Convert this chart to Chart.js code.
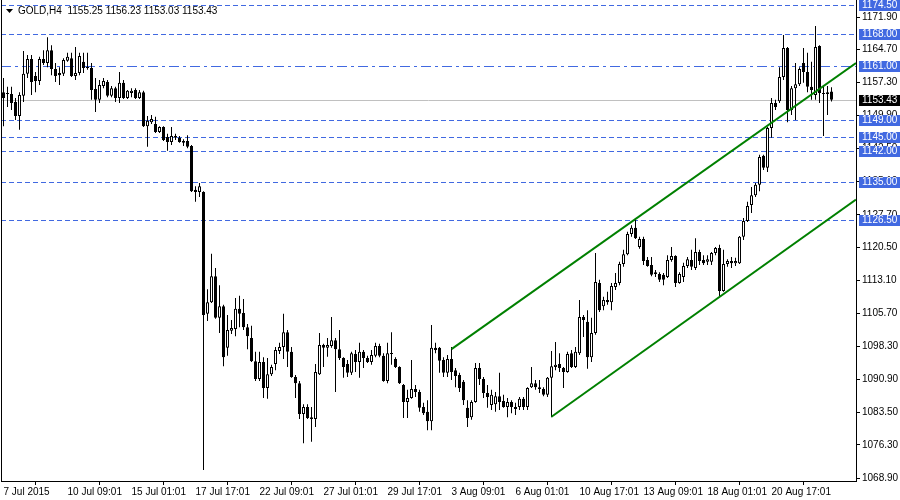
<!DOCTYPE html>
<html><head><meta charset="utf-8">
<script src="https://cdn.jsdelivr.net/npm/chart.js@4.4.1/dist/chart.umd.min.js"></script>
<style>html,body{margin:0;padding:0;background:#fff;}#wrap{width:900px;height:500px;}</style>
</head><body><div id="wrap"><canvas id="c" width="900" height="500"></canvas></div>
<script>
const symbol = 'GOLD,H4';
const timeLabels = ['7 Jul 2015','10 Jul 09:01','15 Jul 01:01','17 Jul 17:01','22 Jul 09:01','27 Jul 01:01','29 Jul 17:01','3 Aug 09:01','6 Aug 01:01','10 Aug 17:01','13 Aug 09:01','18 Aug 01:01','20 Aug 17:01'];
const timeLabelBars = [0,16,32,48,64,80,96,112,128,144,160,176,192];
const priceTicks = [1171.9,1164.7,1157.3,1149.9,1142.5,1135.1,1127.7,1120.5,1113.1,1105.7,1098.3,1090.9,1083.5,1076.3,1068.9];
const levelPrices = [1174.50,1168.00,1161.00,1149.00,1145.00,1142.00,1135.00,1126.50];
const bidPrice = 1153.43;

const opens = [1155.1,1154.7,1154.7,1152.9,1149.8,1154.3,1159.2,1162.5,1158.7,1157.6,1162.5,1161.6,1164.5,1160.3,1159.4,1159.2,1162.1,1162.7,1158.7,1159.4,
1161.9,1160.5,1160.5,1155.8,1153.4,1156.5,1157.4,1154.3,1156.0,1153.8,1157.2,1153.8,1154.9,1155.6,1153.8,1155.1,1147.5,1148.4,1148.0,1146.2,
1147.3,1145.1,1144.0,1144.9,1144.9,1144.2,1144.2,1143.1,1133.3,1132.8,1132.8,1105.6,1108.2,1114.0,1104.7,1107.3,1098.0,1101.8,1102.2,1106.7,
1105.8,1102.6,1100.2,1095.0,1091.0,1094.8,1089.0,1092.1,1094.4,1097.3,1098.2,1101.5,1097.1,1091.5,1090.1,1083.2,1084.8,1082.5,1082.1,1092.1,
1098.6,1098.0,1098.4,1099.7,1097.7,1095.7,1094.4,1092.4,1096.6,1094.8,1097.1,1095.7,1094.8,1096.2,1098.4,1096.2,1090.6,1096.8,1095.5,1093.7,
1089.7,1085.9,1086.8,1088.8,1088.1,1084.8,1083.7,1081.6,1098.0,1098.0,1095.3,1092.4,1095.5,1093.0,1091.9,1090.4,1084.6,1082.5,1085.9,1093.5,
1091.0,1087.9,1085.2,1085.4,1087.2,1086.1,1084.8,1085.9,1084.3,1084.8,1086.6,1084.8,1089.2,1090.1,1089.2,1088.8,1087.5,1091.3,1093.7,1094.4,
1093.5,1092.6,1096.8,1093.7,1096.8,1104.9,1103.8,1095.9,1101.3,1112.5,1107.3,1108.7,1108.2,1111.6,1112.5,1116.7,1118.9,1123.4,1124.8,1120.5,
1122.3,1117.6,1116.5,1114.9,1114.5,1114.3,1113.8,1117.6,1118.5,1112.5,1113.8,1116.3,1117.6,1115.8,1119.4,1117.6,1117.2,1117.2,1119.2,1120.3,
1110.7,1116.7,1117.4,1116.9,1116.9,1122.8,1126.3,1129.9,1132.1,1134.4,1140.9,1138.2,1147.1,1152.7,1153.1,1158.5,1165.0,1151.1,1156.0,1156.9,
1161.6,1159.6,1156.3,1154.5,1165.4,1154.9,1154.7,1155.25];
const highs = [1158.3,1156.3,1156.3,1153.8,1155.1,1164.3,1163.4,1163.4,1159.6,1163.0,1164.5,1167.4,1165.6,1161.6,1160.7,1162.7,1163.9,1163.9,1165.2,1163.9,
1163.9,1163.9,1161.6,1158.3,1157.8,1158.3,1157.8,1156.5,1156.3,1159.6,1157.8,1155.6,1156.0,1156.0,1155.6,1155.4,1149.8,1150.0,1149.6,1147.5,
1147.5,1145.8,1147.3,1145.8,1145.3,1144.6,1145.5,1143.3,1134.1,1134.8,1133.0,1111.1,1119.0,1115.8,1112.0,1107.6,1105.3,1104.2,1109.1,1109.6,
1108.9,1103.3,1102.9,1097.1,1097.1,1095.9,1095.7,1094.2,1098.2,1099.1,1105.6,1102.0,1098.2,1091.9,1090.6,1085.4,1085.4,1084.8,1094.4,1101.3,
1098.9,1100.2,1104.9,1100.2,1102.0,1095.9,1095.3,1097.1,1097.5,1099.1,1097.5,1096.2,1097.5,1099.1,1098.9,1096.8,1099.1,1101.5,1095.9,1093.9,
1089.9,1088.6,1095.3,1089.7,1088.6,1085.7,1086.3,1103.1,1099.1,1098.2,1095.9,1096.4,1098.2,1093.5,1092.4,1090.8,1086.3,1086.3,1094.6,1094.6,
1091.5,1089.7,1088.6,1088.1,1092.4,1087.5,1086.8,1086.3,1085.7,1087.0,1087.0,1089.2,1093.7,1090.8,1090.8,1089.2,1091.5,1097.3,1099.3,1096.8,
1093.7,1097.1,1097.5,1098.2,1108.7,1105.3,1106.4,1104.7,1119.2,1113.2,1109.4,1110.5,1112.5,1114.7,1117.2,1119.9,1123.9,1125.4,1126.6,1122.8,
1122.8,1118.3,1118.3,1115.4,1114.9,1114.7,1118.7,1120.5,1118.7,1114.9,1117.0,1118.3,1119.9,1122.5,1119.9,1118.7,1118.7,1119.4,1120.5,1121.0,
1119.9,1117.8,1118.3,1118.1,1123.0,1127.0,1130.6,1133.9,1134.8,1141.1,1141.1,1147.3,1153.8,1153.4,1160.7,1167.9,1165.2,1156.5,1161.6,1160.7,
1165.0,1163.9,1161.9,1169.9,1165.6,1156.7,1156.5,1156.23];
const lows = [1147.5,1151.8,1151.1,1148.9,1146.7,1152.9,1158.3,1154.5,1155.1,1156.7,1161.2,1160.7,1158.9,1157.4,1156.7,1158.7,1161.9,1158.5,1157.8,1158.9,
1159.4,1160.1,1153.4,1150.7,1152.7,1156.0,1154.0,1154.0,1152.9,1152.7,1153.6,1153.6,1154.0,1153.6,1153.6,1147.3,1142.9,1148.0,1146.0,1146.0,
1144.2,1142.0,1143.3,1144.4,1143.8,1143.1,1142.6,1132.8,1130.6,1131.7,1070.7,1104.0,1108.0,1104.5,1101.3,1093.9,1096.2,1101.1,1100.6,1102.6,
1102.0,1097.7,1094.8,1090.6,1090.6,1086.8,1086.6,1091.7,1093.0,1096.6,1095.5,1093.7,1091.3,1086.8,1082.1,1076.7,1082.1,1077.0,1080.3,1091.9,
1093.7,1096.0,1098.0,1088.1,1095.3,1091.3,1091.5,1091.9,1092.6,1091.3,1093.5,1094.6,1094.2,1095.9,1095.9,1090.4,1090.1,1094.2,1093.5,1089.9,
1082.3,1082.3,1086.6,1087.0,1083.7,1083.0,1079.6,1079.6,1096.8,1092.4,1091.5,1091.5,1090.8,1089.2,1088.1,1085.2,1080.3,1081.9,1085.7,1089.7,
1086.8,1084.6,1084.1,1083.7,1084.1,1084.6,1082.5,1083.4,1083.0,1084.1,1084.1,1084.1,1089.0,1088.6,1087.9,1087.2,1087.0,1082.5,1093.0,1092.6,
1089.0,1092.4,1093.5,1093.5,1096.4,1100.4,1093.3,1094.8,1100.9,1106.0,1106.4,1107.6,1106.4,1110.9,1112.0,1116.1,1118.7,1122.8,1122.3,1120.1,
1116.5,1116.1,1114.0,1113.8,1112.7,1112.0,1113.6,1117.2,1111.6,1112.3,1112.7,1115.8,1115.4,1115.4,1116.5,1116.5,1116.5,1116.5,1118.7,1109.4,
1110.5,1116.1,1115.8,1116.3,1116.7,1122.1,1126.1,1128.1,1131.7,1133.0,1137.7,1137.3,1144.9,1151.1,1152.7,1157.8,1148.4,1150.0,1148.9,1156.5,
1157.2,1155.1,1153.4,1153.4,1152.7,1145.3,1150.0,1153.03];
const closes = [1153.8,1154.9,1152.7,1149.8,1154.5,1159.2,1162.5,1157.4,1157.6,1162.5,1161.6,1164.5,1160.3,1158.7,1158.9,1162.3,1163.0,1158.7,1159.4,1163.2,
1160.5,1160.7,1155.6,1153.4,1156.7,1157.6,1154.3,1156.0,1153.8,1157.2,1153.8,1155.4,1155.4,1153.8,1155.1,1147.5,1148.7,1149.1,1146.2,1147.3,
1144.4,1144.0,1145.3,1145.3,1144.0,1143.8,1142.9,1133.0,1132.8,1134.1,1105.3,1108.2,1114.0,1104.7,1107.3,1095.9,1102.0,1102.4,1106.7,1105.6,
1102.6,1100.6,1095.0,1091.0,1094.8,1089.0,1092.1,1093.7,1097.5,1098.2,1101.5,1097.1,1091.5,1090.1,1083.2,1084.8,1082.3,1082.1,1092.6,1098.6,
1098.0,1098.6,1099.7,1097.7,1095.7,1093.7,1092.4,1096.8,1094.8,1097.1,1095.7,1094.8,1096.4,1098.4,1096.2,1090.6,1096.8,1096.6,1093.7,1090.1,
1085.9,1086.8,1088.8,1088.1,1084.6,1083.4,1081.6,1098.0,1097.5,1095.1,1092.4,1095.5,1092.6,1091.7,1089.0,1086.3,1082.3,1085.9,1093.5,1091.0,
1087.9,1087.0,1087.5,1087.2,1085.9,1084.8,1085.9,1084.8,1084.8,1086.6,1084.8,1089.0,1090.1,1089.2,1088.8,1087.5,1091.3,1093.9,1094.2,1093.5,
1092.6,1096.6,1093.7,1097.1,1104.9,1104.2,1095.9,1101.3,1112.7,1106.4,1108.7,1108.2,1111.8,1112.5,1116.7,1118.9,1123.4,1124.8,1122.5,1122.3,
1117.4,1116.3,1114.3,1114.5,1113.2,1113.2,1117.6,1118.5,1112.5,1114.5,1116.3,1117.8,1116.1,1119.4,1117.4,1116.9,1117.8,1119.2,1120.3,1110.7,
1116.7,1117.4,1116.9,1117.4,1122.8,1126.3,1129.7,1132.1,1134.4,1140.6,1138.2,1147.1,1152.7,1151.8,1158.5,1165.0,1151.1,1156.0,1156.9,1160.3,
1159.6,1156.3,1155.6,1165.2,1154.9,1154.7,1155.1,1153.43];

const upperChannelBars = [112, 213.125];
const upperChannelPrices = [1097.7, 1161.6];
const lowerChannelBars = [137, 213.125];
const lowerChannelPrices = [1082.6, 1131.1];

// ---------- presentation ----------
function hasFont(name){
  const c = document.createElement('canvas').getContext('2d');
  c.font = '20px monospace'; const a = c.measureText('1171.90 GOLD,H4').width;
  c.font = '20px "' + name + '", monospace'; const b = c.measureText('1171.90 GOLD,H4').width;
  return a !== b;
}
const FONT = hasFont('Liberation Sans Narrow') ? {family:'"Liberation Sans Narrow"', size:11} : {family:'"Liberation Sans", Arial', size:10};
const fontStr = FONT.size + 'px ' + FONT.family;
const LEVEL_BLUE = '#4169E1';
const DASHDOT_LEVEL = 1161.00;

Chart.defaults.font.family = FONT.family;
Chart.defaults.font.size = FONT.size;
Chart.defaults.color = '#000';

const idx = opens.map((_, i) => i);
const wickData = idx.map(i => ({x: i, y: [lows[i], highs[i]]}));
const bodyData = idx.map(i => ({x: i, y: [opens[i], closes[i]]}));
const bodyFill = idx.map(i => closes[i] >= opens[i] ? '#ffffff' : '#000000');

const mtPlugin = {
  id: 'mt',
  beforeDraw(chart) {
    const ctx = chart.ctx;
    ctx.save(); ctx.fillStyle = '#fff'; ctx.fillRect(0, 0, chart.width, chart.height); ctx.restore();
  },
  beforeDatasetsDraw(chart) {
    const {ctx, chartArea, scales} = chart;
    ctx.save();
    ctx.lineWidth = 1;
    // bid line
    let y = Math.round(scales.y.getPixelForValue(bidPrice)) + 0.5;
    ctx.strokeStyle = '#c0c0c0'; ctx.setLineDash([]);
    ctx.beginPath(); ctx.moveTo(chartArea.left, y); ctx.lineTo(chartArea.right, y); ctx.stroke();
    levelPrices.forEach(p => {
      const yy = Math.round(scales.y.getPixelForValue(p)) + 0.5;
      ctx.strokeStyle = LEVEL_BLUE;
      ctx.setLineDash(p === DASHDOT_LEVEL ? [10, 4, 3, 4] : [5, 3]);
      ctx.beginPath(); ctx.moveTo(chartArea.left, yy); ctx.lineTo(chartArea.right, yy); ctx.stroke();
    });
    ctx.restore();
  },
  afterDraw(chart) {
    const {ctx, chartArea, scales} = chart;
    ctx.save();
    ctx.font = fontStr; ctx.textBaseline = 'middle'; ctx.textAlign = 'left';
    const boxX = chartArea.right + 3;
    const drawBox = (p, color) => {
      const y = Math.round(scales.y.getPixelForValue(p));
      ctx.fillStyle = color; ctx.fillRect(boxX, y - 5, chart.width - boxX, 11);
      ctx.fillStyle = '#fff'; ctx.fillText(p.toFixed(2), chartArea.right + 6, y + 0.5);
    };
    levelPrices.forEach(p => drawBox(p, LEVEL_BLUE));
    drawBox(bidPrice, '#000');
    // left frame line
    ctx.strokeStyle = '#000'; ctx.lineWidth = 1;
    ctx.beginPath(); ctx.moveTo(chartArea.left + 0.5, 0); ctx.lineTo(chartArea.left + 0.5, chartArea.bottom); ctx.stroke();
    // header
    const n = opens.length - 1;
    ctx.fillStyle = '#000';
    ctx.beginPath(); ctx.moveTo(6, 9); ctx.lineTo(13, 9); ctx.lineTo(9.5, 13); ctx.closePath(); ctx.fill();
    ctx.fillText(symbol + '  ' + [opens[n], highs[n], lows[n], closes[n]].map(v => v.toFixed(2)).join(' '), 18, 11);
    ctx.restore();
  }
};

new Chart(document.getElementById('c'), {
  data: {
    datasets: [
      {type: 'line', data: upperChannelBars.map((b, k) => ({x: b, y: upperChannelPrices[k]})), borderColor: '#008000', borderWidth: 2, pointRadius: 0, order: -2},
      {type: 'line', data: lowerChannelBars.map((b, k) => ({x: b, y: lowerChannelPrices[k]})), borderColor: '#008000', borderWidth: 2, pointRadius: 0, order: -1},
      {type: 'bar', data: bodyData, backgroundColor: bodyFill, borderColor: '#000', borderWidth: 1, borderSkipped: false, barThickness: 3, minBarLength: 1, inflateAmount: 0, grouped: false, order: 0},
      {type: 'bar', data: wickData, backgroundColor: '#000', borderWidth: 0, barThickness: 1, inflateAmount: 0, grouped: false, order: 1}
    ]
  },
  options: {
    responsive: false, animation: false, devicePixelRatio: 1,
    layout: {padding: {left: 1, right: 0, top: 0, bottom: 0}},
    plugins: {legend: {display: false}, tooltip: {enabled: false}},
    scales: {
      x: {
        type: 'linear', position: 'bottom', min: -0.625, max: 213.125, offset: false,
        afterBuildTicks: s => { s.ticks = timeLabelBars.map(v => ({value: v})); },
        ticks: {autoSkip: false, maxRotation: 0, minRotation: 0, align: 'start', padding: 1, color: '#000',
          callback: (v, i) => timeLabels[i]},
        grid: {drawOnChartArea: false, drawTicks: true, tickLength: 4, color: '#000'},
        border: {display: true, color: '#000'},
        afterFit: s => { s.height = 19; s.paddingLeft = 0; s.paddingRight = 0; }
      },
      y: {
        type: 'linear', position: 'right', min: 1068.24, max: 1175.7,
        afterBuildTicks: s => { s.ticks = priceTicks.map(v => ({value: v})); },
        ticks: {autoSkip: false, padding: 2, color: '#000', callback: v => Number(v).toFixed(2)},
        grid: {drawOnChartArea: false, drawTicks: true, tickLength: 4, color: '#000'},
        border: {display: true, color: '#000'},
        afterFit: s => { s.width = 44; s.paddingTop = 0; s.paddingBottom = 0; }
      }
    }
  },
  plugins: [mtPlugin]
});
</script></body></html>
